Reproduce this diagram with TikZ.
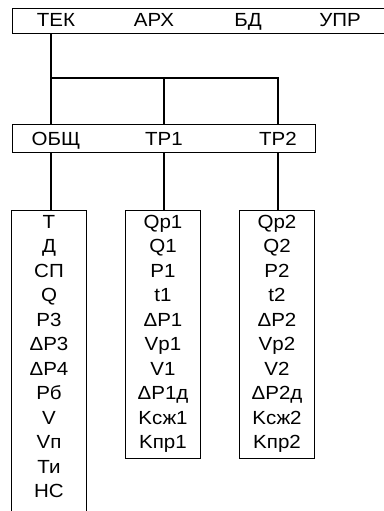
\documentclass[tikz,border=0pt]{standalone}
\usepackage{fontspec}
\setmainfont{Liberation Sans}[FakeStretch=1.08]
\begin{document}
\begin{tikzpicture}[
        x=1pt, y=-1pt,
        bar/.style={draw, line width=1.4pt, anchor=north west, inner sep=0pt},
        lbl/.style={anchor=base, inner sep=0pt, font=\fontsize{19}{22}\selectfont},
        frame/.style={draw, line width=1.4pt, anchor=north, inner sep=0pt, minimum width=75pt},
        items/.style={anchor=north, inner sep=0pt, align=center, font=\fontsize{19}{24.5}\selectfont},
        wire/.style={line width=1.4pt}
    ]
        \useasboundingbox (0,0) rectangle (383,511);
        % Top bar, running out past the right edge
        \node[bar, minimum width=400pt, minimum height=25pt] (top) at (12,8) {};
        \node[lbl] (tek) at (56,27) {ТЕК};
        \node[lbl] (arh) at (154,27) {АРХ};
        \node[lbl] (bd) at (248,27) {БД};
        \node[lbl] (upr) at (340,27) {УПР};

        % Middle bar
        \node[bar, minimum width=303pt, minimum height=28pt] (mid) at (12,124) {};
        \node[lbl] (obsh) at (56,145) {ОБЩ};
        \node[lbl] (tr1) at (164,145) {ТР1};
        \node[lbl] (tr2) at (278,145) {ТР2};

        % Junction points of the tree
        \coordinate (j0) at (51,78);
        \coordinate (j1) at (164,78);
        \coordinate (j2) at (278,78);

        % Parameter lists
        \node[frame, minimum height=340pt] (l0) at (49,210) {};
        \node[frame, minimum height=248pt] (l1) at (163,210) {};
        \node[frame, minimum height=248pt] (l2) at (277,210) {};
        \node[items] (v0) at (49,215) {Т\\Д\\СП\\Q\\P3\\ΔP3\\ΔP4\\Рб\\V\\Vп\\Ти\\НС};
        \node[items] (v1) at (163,215) {Qp1\\Q1\\P1\\t1\\ΔP1\\Vp1\\V1\\ΔP1д\\Kсж1\\Kпр1};
        \node[items] (v2) at (277,215) {Qp2\\Q2\\P2\\t2\\ΔP2\\Vp2\\V2\\ΔP2д\\Kсж2\\Kпр2};

        % Wires
        \draw[wire] (top.south -| j0) -- (mid.north -| j0);
        \draw[wire] (j0) -- (j2) -- (mid.north -| j2);
        \draw[wire] (j1) -- (mid.north -| j1);
        \draw[wire] (mid.south -| j0) -- (l0.north -| j0);
        \draw[wire] (mid.south -| j1) -- (l1.north -| j1);
        \draw[wire] (mid.south -| j2) -- (l2.north -| j2);
    \end{tikzpicture}
\end{document}
